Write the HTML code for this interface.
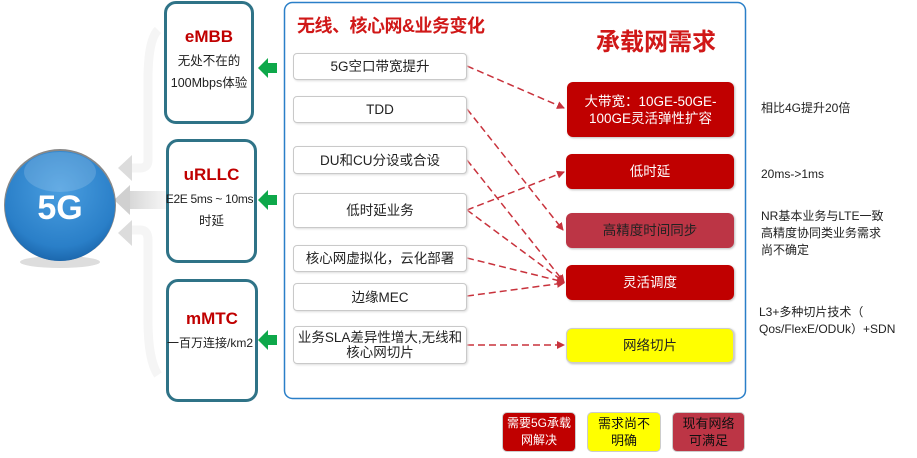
<!DOCTYPE html>
<html><head><meta charset="utf-8"><style>
body{margin:0;width:917px;height:458px;background:#fff;position:relative;overflow:hidden;font-family:"Liberation Sans","Noto Sans CJK SC",sans-serif;}
.a{position:absolute;box-sizing:border-box;}
.lb{border:3px solid #2f7387;border-radius:12px;background:#fff;text-align:center;font-size:12.5px;color:#222;line-height:22px;}
.lb b{display:block;color:#c00000;font-size:17px;margin-top:22px;margin-bottom:2px;}
.it{border:1.5px solid #c9c9c9;border-radius:4px;background:#fff;text-align:center;font-size:13.5px;color:#222;display:flex;align-items:center;justify-content:center;line-height:15px;box-shadow:1px 1px 2px #ddd;}
.rb{border-radius:6px;background:#c00000;color:#fff;text-align:center;font-size:13.5px;display:flex;align-items:center;justify-content:center;line-height:17px;box-shadow:1px 1px 2px #bbb;}
.nt{font-size:12px;color:#222;line-height:17px;}
.lg{border-radius:5px;border:1.5px solid #ccc;text-align:center;font-size:12px;line-height:17px;display:flex;align-items:center;justify-content:center;}
</style></head><body>
<svg class="a" style="left:0;top:0" width="917" height="458">
<defs>
<radialGradient id="g" cx="50%" cy="35%" r="65%"><stop offset="0" stop-color="#4a9ee0"/><stop offset="0.8" stop-color="#2a7fc8"/><stop offset="1" stop-color="#1c68ae"/></radialGradient>
<linearGradient id="gr" x1="0" x2="1"><stop offset="0" stop-color="#d6d6d6"/><stop offset="1" stop-color="#f6f6f6"/></linearGradient>
<marker id="m" markerWidth="8" markerHeight="8" refX="7" refY="4" orient="auto" markerUnits="userSpaceOnUse"><path d="M0,0 L8,4 L0,8 z" fill="#c8323c"/></marker>
</defs>
<path d="M158,30 Q148,40 148,80 L148,160 Q148,168 140,168 L130,168" stroke="#f5f5f5" stroke-width="9" fill="none"/>
<path d="M158,375 Q148,360 148,320 L148,240 Q148,230 140,230 L130,230" stroke="#f5f5f5" stroke-width="9" fill="none"/>
<polygon points="118,168 132,155 132,181" fill="#dcdcdc"/>
<rect x="128" y="191" width="38" height="18" fill="url(#gr)"/>
<polygon points="114,200 130,185 130,215" fill="#d0d0d0"/>
<polygon points="118,233 132,220 132,246" fill="#dcdcdc"/>
<ellipse cx="60" cy="262" rx="40" ry="6" fill="#ddd"/>
<circle cx="60" cy="205" r="56" fill="#888"/>
<circle cx="60" cy="206" r="55" fill="url(#g)"/>
<ellipse cx="60" cy="172" rx="36" ry="20" fill="#fff" opacity="0.15"/>
<text x="60" y="219" fill="#fff" font-size="34" font-weight="bold" text-anchor="middle" font-family="Liberation Sans">5G</text>
<g fill="#0ea84a">
<polygon points="258,68 268,58 268,63 277,63 277,73 268,73 268,78"/>
<polygon points="258,200 268,190 268,195 277,195 277,205 268,205 268,210"/>
<polygon points="258,340 268,330 268,335 277,335 277,345 268,345 268,350"/>
</g>
<rect x="284.5" y="2.5" width="461" height="396" rx="8" fill="none" stroke="#2a7fc8" stroke-width="1.5"/>
<g stroke="#c8323c" stroke-width="1.5" stroke-dasharray="7,4" fill="none" marker-end="url(#m)">
<line x1="467" y1="66" x2="564" y2="108"/>
<line x1="467" y1="109" x2="563" y2="230"/>
<line x1="467" y1="160" x2="564" y2="282"/>
<line x1="467" y1="210" x2="564" y2="172"/>
<line x1="467" y1="210" x2="564" y2="282"/>
<line x1="467" y1="258" x2="564" y2="282"/>
<line x1="467" y1="296" x2="564" y2="283"/>
<line x1="467" y1="345" x2="564" y2="345"/>
</g>
</svg>
<div class="a lb" style="left:164px;top:1px;width:90px;height:123px"><b>eMBB</b>无处不在的<br>100Mbps体验</div>
<div class="a lb" style="left:166px;top:139px;width:91px;height:124px"><b>uRLLC</b><span style="display:block;margin-left:-4px;white-space:nowrap;font-size:12px;letter-spacing:-0.3px">E2E 5ms ~ 10ms</span>时延</div>
<div class="a lb" style="left:166px;top:279px;width:92px;height:123px"><b style="margin-top:26px">mMTC</b><span style="white-space:nowrap;margin-left:-4px;font-size:12px">一百万连接/km2</span></div>
<div class="a" style="left:297px;top:12px;color:#d01818;font-size:18px;font-weight:bold;letter-spacing:-0.5px">无线、核心网&amp;业务变化</div>
<div class="a" style="left:596px;top:22px;color:#d01818;font-size:24px;font-weight:bold">承载网需求</div>
<div class="a it" style="left:293px;top:53px;width:174px;height:27px">5G空口带宽提升</div>
<div class="a it" style="left:293px;top:96px;width:174px;height:27px">TDD</div>
<div class="a it" style="left:293px;top:146px;width:174px;height:28px">DU和CU分设或合设</div>
<div class="a it" style="left:293px;top:193px;width:174px;height:35px">低时延业务</div>
<div class="a it" style="left:293px;top:245px;width:174px;height:27px">核心网虚拟化，云化部署</div>
<div class="a it" style="left:293px;top:283px;width:174px;height:28px">边缘MEC</div>
<div class="a it" style="left:293px;top:326px;width:174px;height:38px">业务SLA差异性增大,无线和<br>核心网切片</div>
<div class="a rb" style="left:567px;top:82px;width:167px;height:55px">大带宽：10GE-50GE-<br>100GE灵活弹性扩容</div>
<div class="a rb" style="left:566px;top:154px;width:168px;height:35px">低时延</div>
<div class="a rb" style="left:566px;top:213px;width:168px;height:35px;background:#bc3545;color:#222">高精度时间同步</div>
<div class="a rb" style="left:566px;top:265px;width:168px;height:35px">灵活调度</div>
<div class="a rb" style="left:566px;top:328px;width:168px;height:35px;background:#ffff00;color:#222;border:1px solid #ccc">网络切片</div>
<div class="a nt" style="left:761px;top:100px">相比4G提升20倍</div>
<div class="a nt" style="left:761px;top:166px">20ms-&gt;1ms</div>
<div class="a nt" style="left:761px;top:208px">NR基本业务与LTE一致<br>高精度协同类业务需求<br>尚不确定</div>
<div class="a nt" style="left:759px;top:304px">L3+多种切片技术（<br>Qos/FlexE/ODUk）+SDN</div>
<div class="a lg" style="left:502px;top:412px;width:74px;height:40px;background:#c00000;color:#fff">需要5G承载<br>网解决</div>
<div class="a lg" style="left:587px;top:412px;width:74px;height:40px;background:#ffff00;color:#111;font-size:13px">需求尚不<br>明确</div>
<div class="a lg" style="left:672px;top:412px;width:73px;height:40px;background:#bc3545;color:#111;font-size:13px">现有网络<br>可满足</div>
</body></html>
